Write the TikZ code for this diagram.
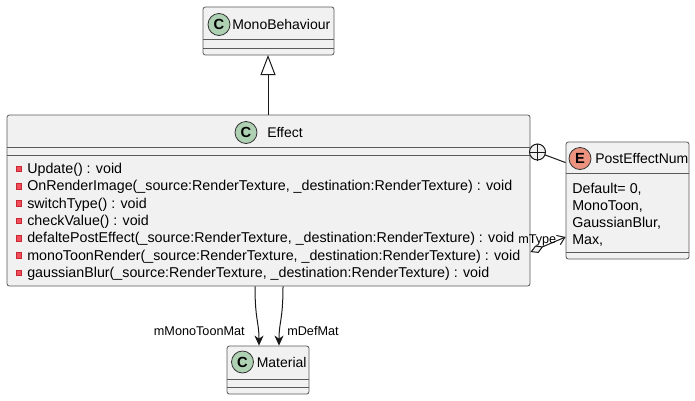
\documentclass[tikz,border=0pt]{standalone}
\usepackage{fontspec}
\setmainfont{Liberation Sans}
\usetikzlibrary{arrows.meta,calc}
\definecolor{boxfill}{HTML}{F1F1F1}
\definecolor{boxline}{HTML}{5A5A5A}
\definecolor{cfill}{HTML}{ADD1B2}
\definecolor{efill}{HTML}{EB937F}
\definecolor{privfill}{HTML}{F24D5C}
\definecolor{privline}{HTML}{C82930}
\tikzset{
  umlbox/.style={draw=boxline, fill=boxfill, line width=0.6pt, rounded corners=1.8pt, inner sep=0pt},
  sepline/.style={draw=boxline, line width=0.6pt},
  badge/.style={circle, draw=black!80, line width=0.6pt, minimum size=16.5pt, inner sep=0pt, font=\fontsize{11}{12}\selectfont\bfseries},
  titletext/.style={anchor=base west, inner sep=0pt, font=\fontsize{10.5}{12}\selectfont},
  membertext/.style={anchor=base west, inner sep=0pt, font=\fontsize{10.7}{12}\selectfont},
  privicon/.style={draw=privline, fill=privfill, line width=0.5pt, minimum size=4.2pt, inner sep=0pt},
  rellabel/.style={inner sep=0pt, font=\fontsize{9.5}{11}\selectfont},
  conn/.style={draw=black!90, line width=0.75pt},
}
\begin{document}
\begin{tikzpicture}[x=0.75pt,y=-0.75pt]
\useasboundingbox (0,0) rectangle (695,400);
% MonoBehaviour
\node[umlbox, minimum width=131*0.75pt, minimum height=48*0.75pt] (mono) at (268.5,31) {};
\draw[sepline] (203,39) -- (334,39);
\draw[sepline] (203,48) -- (334,48);
\node[badge, fill=cfill] (monoC) at (219,24.5) {C};
\node[titletext] (monoT) at (232,29.5) {MonoBehaviour};
% Effect
\node[umlbox, minimum width=523*0.75pt, minimum height=171*0.75pt] (effect) at (268.5,200.5) {};
\draw[sepline] (7,147) -- (530,147);
\draw[sepline] (7,155) -- (530,155);
\node[badge, fill=cfill] (effC) at (246,132.5) {C};
\node[titletext] (effT) at (267,137.5) {Effect};
\foreach \i/\t in {0/{Update() : void},
  1/{OnRenderImage(\_source:RenderTexture, \_destination:RenderTexture) : void},
  2/{switchType() : void},
  3/{checkValue() : void},
  4/{defaltePostEffect(\_source:RenderTexture, \_destination:RenderTexture) : void},
  5/{monoToonRender(\_source:RenderTexture, \_destination:RenderTexture) : void},
  6/{gaussianBlur(\_source:RenderTexture, \_destination:RenderTexture) : void}}{
  \node[privicon] (ic\i) at (19,169+17.3*\i) {};
  \node[membertext] (m\i) at (27,173.5+17.3*\i) {\t};
}
% PostEffectNum
\node[umlbox, minimum width=123*0.75pt, minimum height=117*0.75pt] (pen) at (627.5,200.5) {};
\draw[sepline] (566,173) -- (689,173);
\draw[sepline] (566,252) -- (689,252);
\node[badge, fill=efill] (penE) at (580,158.5) {E};
\node[titletext] (penT) at (595,163.5) {PostEffectNum};
\foreach \i/\t in {0/{Default= 0,},1/{MonoToon,},2/{GaussianBlur,},3/{Max,}}{
  \node[membertext] (v\i) at (572,193.5+17*\i) {\t};
}
% Material
\node[umlbox, minimum width=82*0.75pt, minimum height=48*0.75pt] (mat) at (268,370) {};
\draw[sepline] (227,379) -- (309,379);
\draw[sepline] (227,387) -- (309,387);
\node[badge, fill=cfill] (matC) at (242.5,362) {C};
\node[titletext] (matT) at (256.5,367) {Material};
% inheritance
\draw[conn, -{Triangle[open, length=20*0.75pt, width=15*0.75pt]}] (268,115) -- (268,55);
% nested
\node[circle, draw=black!90, fill=boxfill, line width=0.75pt, minimum size=16*0.75pt, inner sep=0pt] (plus) at (537.5,152) {};
\draw[conn] (plus.north) -- (plus.south);
\draw[conn] (plus.west) -- (plus.east);
\draw[conn] (plus) ++(7.2,2.8) -- ($(pen.north west)+(0,21)$);
% aggregation
\coordinate (aggS) at ($(effect.east)+(0,51.5)$);
\coordinate (aggE) at ($(pen.west)+(0,36.5)$);
\draw[conn, {Diamond[open, fill=boxfill, length=14*0.75pt, width=8*0.75pt]}-{Straight Barb[length=7*0.75pt, width=10*0.75pt]}] (aggS) -- (aggE);
\node[rellabel, anchor=base west] (mtype) at (518,243.5) {mType};
% associations
\coordinate (a1s) at ($(effect.south)+(-13.5,0)$);
\coordinate (a1e) at ($(mat.north)+(-9,0)$);
\coordinate (a2s) at ($(effect.south)+(14.5,0)$);
\coordinate (a2e) at ($(mat.north)+(11,0)$);
\draw[conn, -{Stealth[length=10*0.75pt, width=9*0.75pt, inset=3*0.75pt]}] (a1s) .. controls (255,320) and (259,322) .. (a1e);
\draw[conn, -{Stealth[length=10*0.75pt, width=9*0.75pt, inset=3*0.75pt]}] (a2s) .. controls (283,320) and (279,322) .. (a2e);
\node[rellabel, anchor=base east] (l1) at (245,335) {mMonoToonMat};
\node[rellabel, anchor=base west] (l2) at (287,335) {mDefMat};
\end{tikzpicture}
\end{document}
